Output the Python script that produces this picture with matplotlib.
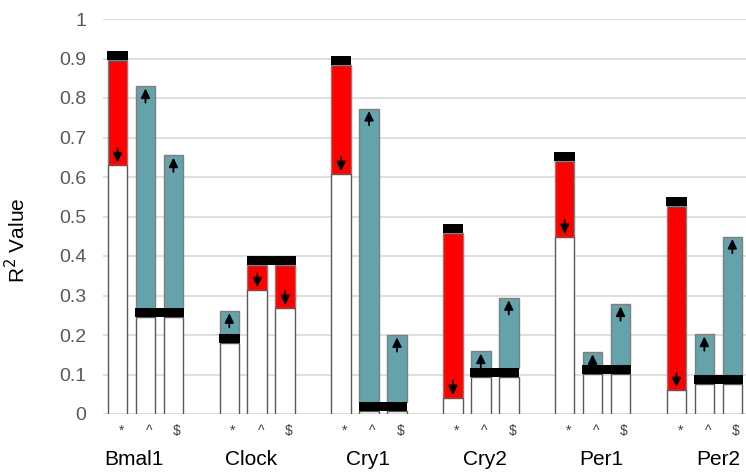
import numpy as np
import matplotlib
matplotlib.use('Agg')
import matplotlib.pyplot as plt

plt.rcParams['font.family'] = ['Liberation Sans', 'DejaVu Sans']

genes = ['Bmal1', 'Clock', 'Cry1', 'Cry2', 'Per1', 'Per2']
marks = ['*', '^', '$']

# baseline R2 (black band edge) and changed R2 (other end of coloured part), per gene: *, ^, $
base = [
    [0.897, 0.268, 0.268],
    [0.203, 0.377, 0.377],
    [0.883, 0.031, 0.031],
    [0.457, 0.117, 0.117],
    [0.641, 0.124, 0.124],
    [0.527, 0.099, 0.099],
]
new = [
    [0.630, 0.830, 0.655],
    [0.261, 0.314, 0.269],
    [0.608, 0.773, 0.200],
    [0.041, 0.159, 0.294],
    [0.449, 0.157, 0.278],
    [0.061, 0.202, 0.449],
]

RED = '#ff0000'
TEAL = '#65a3ac'
BAND = 0.023
W = 0.7

fig = plt.figure(figsize=(7.46, 4.76), dpi=100)
ax = fig.add_axes([103 / 746, 1 - 414 / 476, 643 / 746, 395 / 476])

for g, gene in enumerate(genes):
    for j in range(3):
        x = g * 4 + j
        b = base[g][j]
        n = new[g][j]
        if n > b:
            # increase: black band below base, teal up to new value
            white_top = b - BAND
            ax.bar(x, n - b, bottom=b, width=W, color=TEAL, edgecolor='#7f7f7f', lw=1, zorder=2)
            tip, tail = n - 0.006, n - 0.042
        else:
            white_top = n
            ax.bar(x, b - n, bottom=n, width=W, color=RED, edgecolor='#7f7f7f', lw=1, zorder=2)
            tip, tail = n + 0.007, n + 0.043
        ax.bar(x, white_top, width=W, color='white', edgecolor='#595959', lw=1, zorder=2)
        ax.annotate('', xy=(x, tip), xytext=(x, tail),
                    arrowprops=dict(arrowstyle='-|>,head_width=0.27,head_length=0.55',
                                    color='black', lw=1.3, shrinkA=0, shrinkB=0), zorder=4)
        ax.text(x + 0.13, -0.043, marks[j], transform=ax.get_xaxis_transform(),
                ha='center', va='center', fontsize=10, color='#404040')

    # black bands; ^ and $ share one band when their baseline is the same
    groups = [[0], [1, 2]] if base[g][1] == base[g][2] else [[0], [1], [2]]
    for grp in groups:
        j0, j1 = grp[0], grp[-1]
        b = base[g][j0]
        lo = b - BAND if new[g][j0] > b else b
        xc = g * 4 + (j0 + j1) / 2
        ax.bar(xc, BAND, bottom=lo, width=(j1 - j0) + W + 0.04, color='black', lw=0, zorder=3)

    ax.text(0.6 + 4.18 * g, -0.116, gene, transform=ax.get_xaxis_transform(),
            ha='center', va='center', fontsize=15, color='black')

ax.set_ylim(0, 1)
ax.set_xlim(-0.52, 22.49)
ax.set_yticks(np.arange(0, 1.01, 0.1))
ax.set_yticklabels(['0'] + ['%.1f' % v for v in np.arange(0.1, 0.95, 0.1)] + ['1'])
ax.tick_params(axis='y', length=0, pad=12, labelsize=14, labelcolor='#595959')
ax.set_xticks([])
ax.grid(axis='y', color='#d9d9d9', lw=1.2, zorder=0)
ax.set_axisbelow(True)
for s in ax.spines.values():
    s.set_visible(False)

fig.text(17 / 746, 1 - 240 / 476, 'R$^2$ Value', rotation=90, ha='center', va='center',
         fontsize=15, color='black')

fig.savefig('out.png', dpi=100)
